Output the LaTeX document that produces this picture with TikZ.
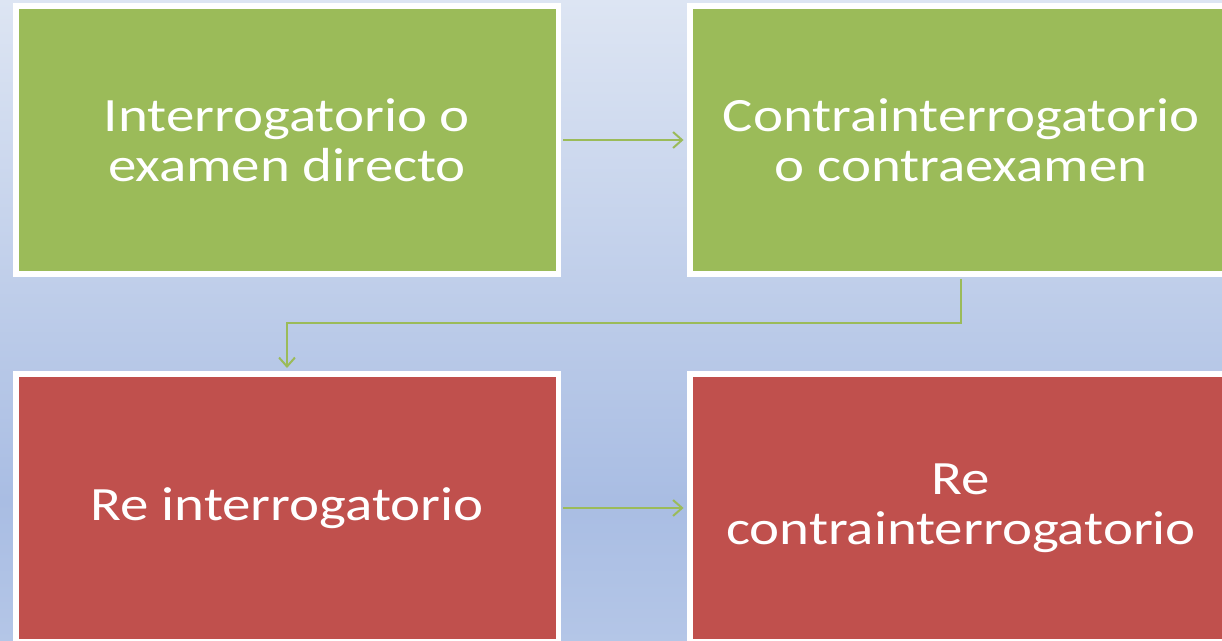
\documentclass[tikz,border=0pt]{standalone}
\usepackage{fontspec}
\newfontfamily\boxfont[FakeStretch=1.19]{Carlito}
\usetikzlibrary{arrows.meta,shadows}

\definecolor{boxgreen}{HTML}{9BBB59}
\definecolor{boxred}{HTML}{C0504D}
\definecolor{bgtop}{HTML}{DDE5F3}
\definecolor{bgmid}{HTML}{A9BDE3}
\definecolor{bgbot}{HTML}{B4C6E7}

\tikzset{
	stepbox/.style={draw=white, line width=6, minimum width=545, minimum height=269,
		inner sep=0, align=center, text=white,
		font=\boxfont\fontsize{48}{50}\selectfont,
		drop shadow={shadow xshift=1.5pt, shadow yshift=-2pt, opacity=0.25}},
	greenbox/.style={stepbox, fill=boxgreen},
	redbox/.style={stepbox, fill=boxred},
	link/.style={draw=boxgreen, line width=2, shorten <=2, shorten >=3,
		-{Straight Barb[length=9, width=16]}}
}

\begin{document}
\begin{tikzpicture}[x=1bp,y=-1bp]

	%Background
	\useasboundingbox (0,0) rectangle (1222,641);
	\clip (0,0) rectangle (1222,641);
	\fill[top color=bgtop, bottom color=bgmid] (0,0) rectangle (1222,500);
	\fill[top color=bgmid, bottom color=bgbot] (0,500) rectangle (1222,641);

	%Steps
	%Top row
	\node[greenbox] (direct) at (287,140) {Interrogatorio o\\examen directo};
	\node[greenbox] (cross) at (961,140) {Contrainterrogatorio\\o contraexamen};

	%Bottom row
	\node[redbox] (redirect) at (287,508) {Re interrogatorio};
	\node[redbox] (recross) at (961,508) {Re\\contrainterrogatorio};

	%Links
	\coordinate (bend) at (0,323);
	\draw[link] (direct.east) -- (cross.west);
	\draw[link] (cross.south) -- (cross.south |- bend) -| (redirect.north);
	\draw[link] (redirect.east) -- (recross.west);

\end{tikzpicture}
\end{document}
